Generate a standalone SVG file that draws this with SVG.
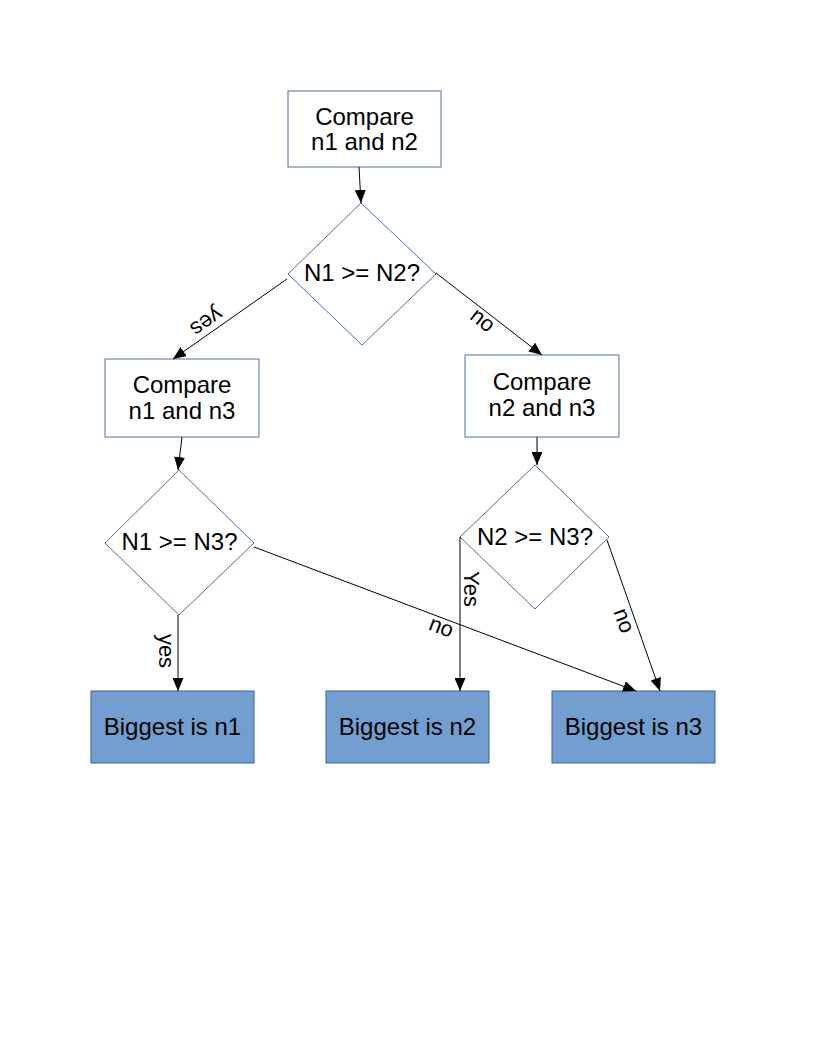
<svg xmlns="http://www.w3.org/2000/svg" width="816" height="1056" viewBox="0 0 816 1056">
<style>
.box{fill:#ffffff;stroke:#4a6fa5;stroke-width:1}
.dia{fill:#ffffff;stroke:#4a6fa5;stroke-width:1}
.res{fill:#729fcf;stroke:#3465a4;stroke-width:1}
.t{font-family:"Liberation Sans",Arial,sans-serif;font-size:24px;fill:#000000;text-anchor:middle}
.lbl{font-family:"Liberation Sans",Arial,sans-serif;font-size:22px;fill:#000000;text-anchor:middle}
.c{fill:none;stroke:#000000;stroke-width:1}
</style>
<defs>
<marker id="ah" markerUnits="userSpaceOnUse" markerWidth="13" markerHeight="11" refX="13" refY="5.5" orient="auto">
<path d="M0,0 L13,5.5 L0,11 z" fill="#000000"/>
</marker>
</defs>
<rect width="816" height="1056" fill="#ffffff"/>
<g id="start">
<rect class="box" x="288" y="91" width="153" height="76"/>
<text class="t" x="364.5" y="125">Compare</text>
<text class="t" x="364.5" y="150">n1 and n2</text>
</g>
<g id="d1">
<polygon class="dia" points="361,203 436,274 362,345 288,274"/>
<text class="t" x="362" y="281">N1 &gt;= N2?</text>
</g>
<g id="cmp13">
<rect class="box" x="105" y="359" width="154" height="78"/>
<text class="t" x="182" y="393">Compare</text>
<text class="t" x="182" y="419">n1 and n3</text>
</g>
<g id="cmp23">
<rect class="box" x="465" y="355" width="154" height="82"/>
<text class="t" x="542" y="390">Compare</text>
<text class="t" x="542" y="416">n2 and n3</text>
</g>
<g id="d2">
<polygon class="dia" points="179,470 254,543 179,615 105,543"/>
<text class="t" x="179.5" y="550">N1 &gt;= N3?</text>
</g>
<g id="d3">
<polygon class="dia" points="535,465 609,537 535,609 460,537"/>
<text class="t" x="535" y="545">N2 &gt;= N3?</text>
</g>
<g id="r1">
<rect class="res" x="91" y="691" width="163" height="72"/>
<text class="t" x="172.5" y="735">Biggest is n1</text>
</g>
<g id="r2">
<rect class="res" x="326" y="691" width="163" height="72"/>
<text class="t" x="407.5" y="735">Biggest is n2</text>
</g>
<g id="r3">
<rect class="res" x="552" y="691" width="163" height="72"/>
<text class="t" x="633.5" y="735">Biggest is n3</text>
</g>
<g id="connectors">
<line class="c" x1="359" y1="167" x2="361" y2="203" marker-end="url(#ah)"/>
<line class="c" x1="287" y1="279" x2="173" y2="359" marker-end="url(#ah)"/>
<line class="c" x1="436" y1="273" x2="542" y2="355" marker-end="url(#ah)"/>
<line class="c" x1="182" y1="437" x2="178" y2="470" marker-end="url(#ah)"/>
<line class="c" x1="178" y1="615" x2="178" y2="691" marker-end="url(#ah)"/>
<line class="c" x1="537" y1="437" x2="537" y2="465" marker-end="url(#ah)"/>
<line class="c" x1="460" y1="537" x2="460" y2="691" marker-end="url(#ah)"/>
<line class="c" x1="607" y1="540" x2="660" y2="691" marker-end="url(#ah)"/>
<line class="c" x1="254" y1="547" x2="636" y2="691" marker-end="url(#ah)"/>
<text class="lbl" transform="translate(206,321) rotate(145)" y="6">yes</text>
<text class="lbl" transform="translate(482,321) rotate(38)" y="6">no</text>
<text class="lbl" transform="translate(165,651) rotate(90)" y="6">yes</text>
<text class="lbl" transform="translate(472,589) rotate(90)" y="8">Yes</text>
<text class="lbl" transform="translate(623,621) rotate(70)" y="6">no</text>
<text class="lbl" transform="translate(441,628) rotate(21)" y="6">no</text>
</g>
</svg>
